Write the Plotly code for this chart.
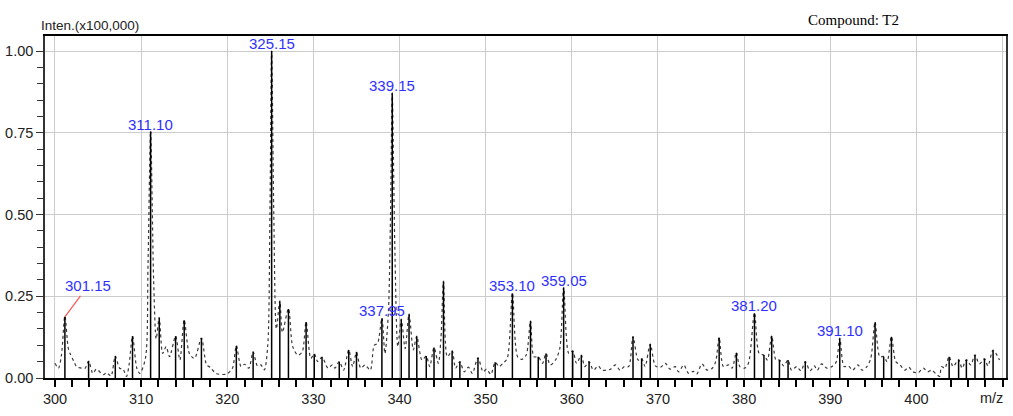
import plotly.graph_objects as go

# ---- data ----
stick_mz = [301.15, 303.9, 307.0, 309.0, 311.1, 312.1, 314.0, 315.0, 317.0, 321.05, 323.0,
            325.15, 326.1, 327.1, 329.15, 330.1, 331.0, 333.0, 334.1, 335.0, 337.95, 339.15,
            340.2, 341.1, 342.0, 343.1, 344.0, 345.1, 346.1, 347.0, 349.1, 351.1, 353.1,
            355.2, 356.1, 357.0, 359.05, 360.1, 361.1, 362.0, 367.1, 368.1, 369.1, 377.1,
            379.1, 381.2, 382.3, 383.2, 384.1, 385.1, 387.1, 391.1, 395.2, 396.2, 397.1,
            403.8, 404.9, 405.8, 406.8, 407.9, 408.9]
stick_int = [0.187, 0.052, 0.067, 0.128, 0.753, 0.184, 0.128, 0.177, 0.122, 0.098, 0.080,
             1.000, 0.235, 0.211, 0.171, 0.073, 0.064, 0.050, 0.086, 0.080, 0.182, 0.871,
             0.179, 0.195, 0.128, 0.067, 0.093, 0.295, 0.083, 0.050, 0.062, 0.048, 0.259,
             0.174, 0.065, 0.075, 0.276, 0.083, 0.070, 0.050, 0.126, 0.060, 0.103, 0.123,
             0.077, 0.198, 0.070, 0.128, 0.055, 0.055, 0.050, 0.121, 0.170, 0.065, 0.126,
             0.065, 0.055, 0.055, 0.070, 0.058, 0.084]

profile_mz = [300.0, 300.4, 300.75, 301.15, 301.55, 301.8, 302.2, 302.5, 303.1, 303.5, 303.9,
              304.4, 304.8, 305.6, 306.0, 306.5, 307.0, 307.5, 307.9, 308.3, 308.6, 309.0,
              309.5, 309.85, 310.5, 310.8, 311.1, 311.45, 311.75, 312.1, 312.5, 312.9, 313.3,
              314.0, 314.5, 315.0, 315.6, 316.2, 317.0, 317.6, 318.0, 318.7, 319.9, 320.6,
              321.05, 321.6, 322.0, 322.5, 323.0, 323.5, 323.9, 324.3, 324.7, 324.95, 325.15,
              325.4, 325.7, 326.1, 326.4, 327.1, 327.6, 328.2, 328.7, 329.15, 329.7, 330.1,
              330.5, 331.0, 331.7, 332.2, 332.5, 333.0, 333.5, 334.1, 334.55, 335.0, 335.5,
              336.0, 336.6, 337.06, 337.45, 337.95, 338.3, 338.7, 338.95, 339.15, 339.45,
              339.8, 340.2, 340.65, 341.1, 341.6, 342.0, 342.6, 343.1, 343.5, 344.0, 344.5,
              344.8, 345.1, 345.55, 346.1, 346.5, 347.0, 347.5, 348.0, 348.45, 349.1, 349.7,
              350.1, 350.6, 351.1, 351.55, 352.0, 352.5, 353.1, 353.7, 354.2, 354.7, 355.2,
              355.6, 356.1, 356.6, 357.0, 357.5, 358.1, 358.6, 359.05, 359.65, 360.1, 360.55,
              361.1, 361.5, 362.0, 362.5, 363.05, 363.5, 364.1, 364.5, 365.05, 365.6, 366.1,
              366.6, 367.1, 367.7, 368.1, 368.5, 369.1, 369.7, 370.3, 370.85, 371.4, 372.0,
              372.4, 373.0, 373.55, 374.1, 374.5, 375.1, 375.7, 376.3, 376.7, 377.1, 377.6,
              378.2, 378.6, 379.1, 379.5, 380.05, 380.5, 381.2, 381.75, 382.3, 382.7, 383.2,
              383.7, 384.1, 384.6, 385.1, 385.5, 386.1, 386.6, 387.1, 387.65, 388.15, 388.5,
              389.0, 389.6, 390.2, 390.7, 391.1, 391.6, 392.1, 392.6, 393.2, 393.7, 394.2,
              394.7, 395.2, 395.75, 396.2, 396.6, 397.1, 397.6, 398.1, 398.65, 399.1, 399.6,
              400.2, 400.8, 401.3, 401.75, 402.3, 402.7, 402.9, 403.3, 403.8, 404.25, 404.9,
              405.3, 405.8, 406.3, 406.8, 407.3, 407.9, 408.3, 408.9, 409.65]
profile_int = [0.045, 0.030, 0.070, 0.190, 0.090, 0.072, 0.050, 0.035, 0.030, 0.030, 0.052,
               0.014, 0.027, 0.010, 0.016, 0.006, 0.067, 0.030, 0.027, 0.005, 0.040, 0.128,
               0.030, 0.014, 0.060, 0.350, 0.755, 0.300, 0.120, 0.185, 0.075, 0.096, 0.065,
               0.128, 0.055, 0.178, 0.075, 0.060, 0.122, 0.040, 0.033, 0.014, 0.012, 0.030,
               0.099, 0.035, 0.042, 0.030, 0.080, 0.037, 0.040, 0.025, 0.100, 0.500, 1.000,
               0.500, 0.150, 0.236, 0.140, 0.212, 0.096, 0.070, 0.080, 0.172, 0.060, 0.074,
               0.050, 0.064, 0.030, 0.040, 0.030, 0.050, 0.024, 0.086, 0.035, 0.078, 0.030,
               0.040, 0.024, 0.100, 0.106, 0.183, 0.075, 0.200, 0.500, 0.872, 0.400,
               0.096, 0.180, 0.090, 0.196, 0.086, 0.128, 0.055, 0.067, 0.035, 0.093, 0.045,
               0.120, 0.296, 0.065, 0.083, 0.030, 0.050, 0.019, 0.033, 0.014, 0.062, 0.019,
               0.027, 0.011, 0.048, 0.035, 0.045, 0.060, 0.260, 0.065, 0.057, 0.070, 0.175,
               0.065, 0.065, 0.045, 0.075, 0.040, 0.055, 0.090, 0.277, 0.075, 0.083, 0.045,
               0.070, 0.035, 0.050, 0.024, 0.037, 0.024, 0.024, 0.027, 0.040, 0.024, 0.035,
               0.035, 0.127, 0.055, 0.060, 0.035, 0.104, 0.037, 0.033, 0.045, 0.027, 0.035,
               0.019, 0.040, 0.014, 0.020, 0.012, 0.043, 0.024, 0.030, 0.050, 0.124, 0.035,
               0.040, 0.030, 0.078, 0.035, 0.030, 0.045, 0.199, 0.075, 0.070, 0.055, 0.129,
               0.055, 0.055, 0.037, 0.055, 0.024, 0.035, 0.022, 0.050, 0.022, 0.037, 0.024,
               0.043, 0.030, 0.035, 0.050, 0.122, 0.035, 0.037, 0.024, 0.040, 0.024, 0.033,
               0.060, 0.171, 0.065, 0.066, 0.050, 0.127, 0.050, 0.040, 0.024, 0.033, 0.019,
               0.016, 0.030, 0.019, 0.024, 0.012, 0.005, 0.035, 0.030, 0.066, 0.035, 0.056,
               0.030, 0.056, 0.040, 0.071, 0.043, 0.059, 0.037, 0.085, 0.055]

label_mz = [311.10, 325.15, 339.15, 337.95, 353.10, 359.05, 381.20, 391.10]
label_int = [0.753, 1.000, 0.871, 0.182, 0.259, 0.276, 0.198, 0.121]
label_text = ["311.10", "325.15", "339.15", "337.95", "353.10", "359.05", "381.20", "391.10"]
lead_label_mz = 301.15
lead_label_int = 0.187
lead_label_text = "301.15"

x_tickvals = [300, 310, 320, 330, 340, 350, 360, 370, 380, 390, 400, 410]
x_ticktext = ["300", "310", "320", "330", "340", "350", "360", "370", "380", "390", "400", ""]
x_axis_unit = "m/z"
y_tickvals = [0.0, 0.25, 0.5, 0.75, 1.0]
y_ticktext = ["0.00", "0.25", "0.50", "0.75", "1.00"]

SANS = "Liberation Sans, Arial, sans-serif"

fig = go.Figure()

# profile
fig.add_trace(go.Scatter(x=profile_mz, y=profile_int, mode="lines",
                         line=dict(color="#3a3a3a", width=1.2, dash="dot", shape="spline", smoothing=0.8),
                         hoverinfo="skip", showlegend=False))

# sticks
sx, sy = [], []
for m, h in zip(stick_mz, stick_int):
    sx += [m, m, None]
    sy += [0, h, None]
fig.add_trace(go.Scatter(x=sx, y=sy, mode="lines", line=dict(color="black", width=1.5),
                         showlegend=False))

annotations = []
for m, h, t in zip(label_mz, label_int, label_text):
    annotations.append(dict(x=m, y=h, text=t, showarrow=False, yanchor="bottom", xanchor="center",
                            yshift=-3, font=dict(family=SANS, size=15, color="#3030ff")))
annotations.append(dict(x=lead_label_mz, y=lead_label_int, text=lead_label_text, showarrow=True,
                        ax=23, ay=-31, arrowhead=0, arrowwidth=1.2, arrowcolor="#ff5555", standoff=0,
                        font=dict(family=SANS, size=15, color="#3030ff")))
annotations.append(dict(xref="paper", yref="paper", x=-0.006, y=1.032, xanchor="left", yanchor="middle",
                        text="Inten.(x100,000)", showarrow=False,
                        font=dict(family=SANS, size=13.5, color="#222222")))
annotations.append(dict(xref="paper", yref="paper", x=0.841, y=1.047, xanchor="center", yanchor="middle",
                        text="Compound: T2", showarrow=False,
                        font=dict(family="Liberation Serif, Times New Roman, serif", size=15, color="black")))
annotations.append(dict(xref="paper", yref="paper", x=0.999, y=0, yshift=-20, xanchor="right", yanchor="middle",
                        text=x_axis_unit, showarrow=False,
                        font=dict(family=SANS, size=14.5, color="#222222")))

fig.update_layout(
    width=1013, height=416,
    margin=dict(l=45, r=5, t=36, b=38),
    paper_bgcolor="white", plot_bgcolor="white",
    annotations=annotations,
    xaxis=dict(range=[298.84, 410.4], tickvals=x_tickvals, ticktext=x_ticktext,
               showgrid=True, gridcolor="#cccccc", gridwidth=1,
               showline=True, linecolor="black", linewidth=2, mirror=True,
               ticks="outside", ticklen=7, tickwidth=1.5, tickcolor="black",
               minor=dict(dtick=2, tick0=300, ticks="outside", ticklen=7, tickwidth=1.5,
                          tickcolor="black", showgrid=False),
               tickfont=dict(family=SANS, size=14.5, color="#222222"), zeroline=False),
    yaxis=dict(range=[0, 1.046], tickvals=y_tickvals, ticktext=y_ticktext,
               showgrid=True, gridcolor="#cccccc", gridwidth=1,
               showline=True, linecolor="#333333", linewidth=1.5, mirror=True,
               ticks="outside", ticklen=7, tickwidth=1.2, tickcolor="#333333",
               minor=dict(dtick=0.05, tick0=0, ticks="outside", ticklen=6, tickwidth=1.2,
                          tickcolor="#333333", showgrid=False),
               tickfont=dict(family=SANS, size=14.5, color="#222222"), zeroline=False),
)

fig.write_html("out.html")
